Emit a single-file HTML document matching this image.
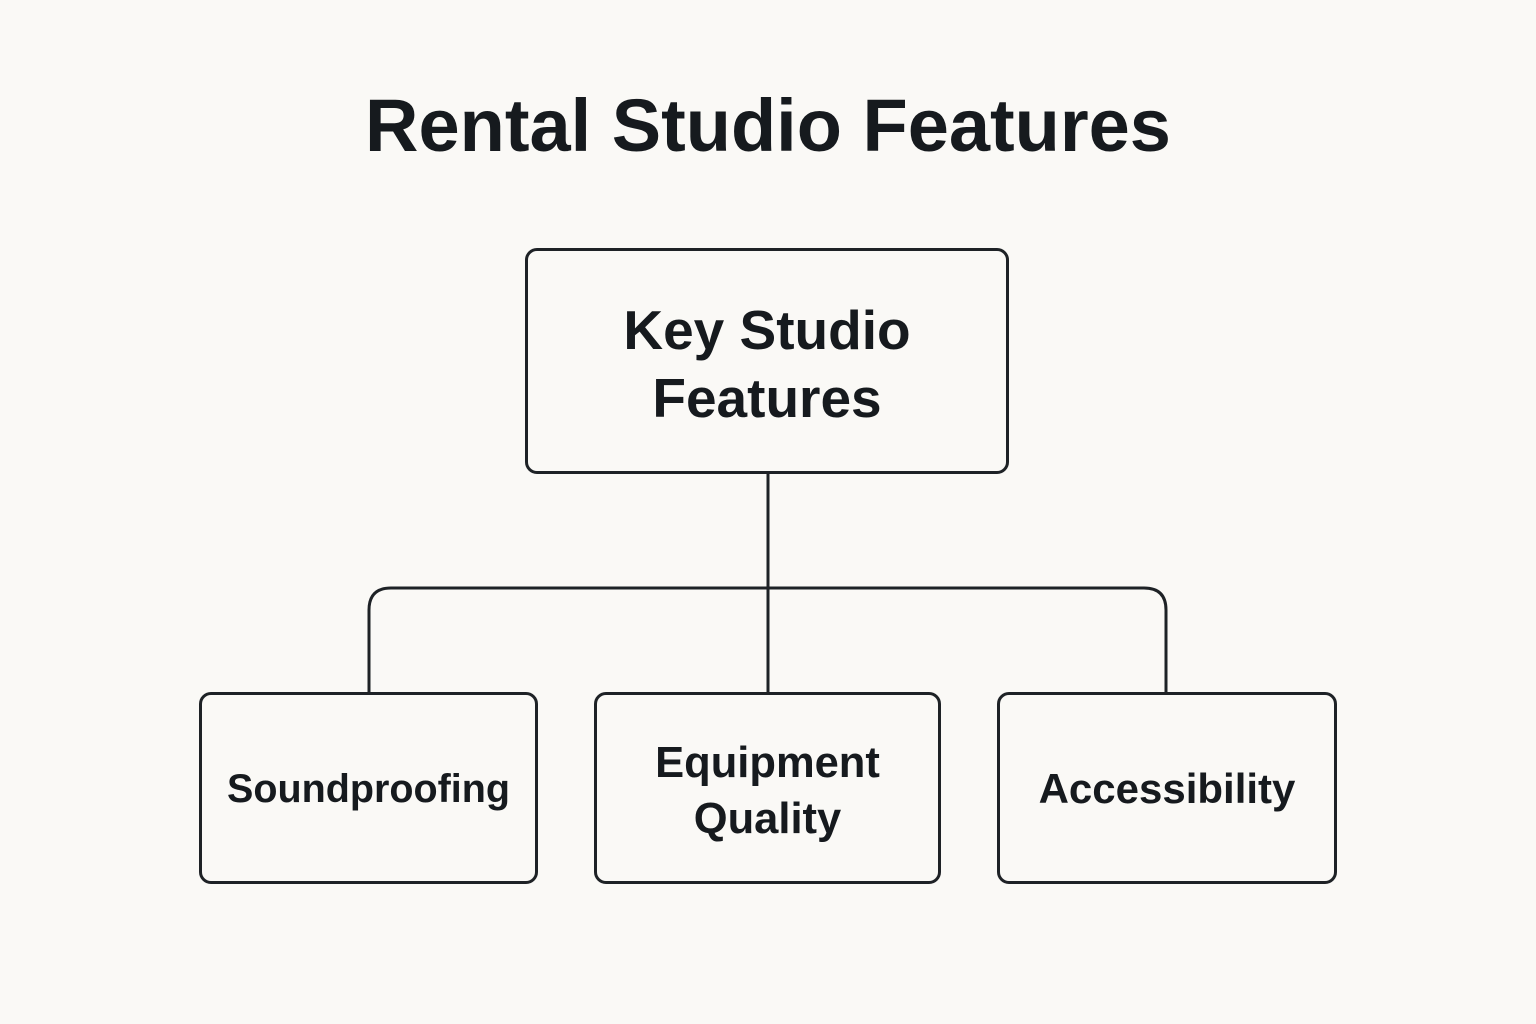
<!DOCTYPE html>
<html><head><meta charset="utf-8"><style>
html,body{margin:0;padding:0;}
body{width:1536px;height:1024px;background:#faf9f6;position:relative;overflow:hidden;font-family:"Liberation Sans",sans-serif;color:#161a1e;}
.t{position:absolute;left:0;width:1536px;top:86px;text-align:center;font-size:74px;font-weight:bold;line-height:80px;}
.box{position:absolute;border:3px solid #1e2226;border-radius:12px;box-sizing:border-box;display:flex;align-items:center;justify-content:center;text-align:center;font-weight:bold;}
</style></head><body>
<div class="t">Rental Studio Features</div>
<svg width="1536" height="1024" style="position:absolute;left:0;top:0">
<g fill="none" stroke="#1e2226" stroke-width="3">
<line x1="768" y1="472" x2="768" y2="694"/>
<path d="M369 694 V610 Q369 588 391 588 H1144 Q1166 588 1166 610 V694"/>
</g></svg>
<div class="box" style="left:525px;top:248px;width:484px;height:226px;font-size:55px;line-height:68px;padding-top:6px;">Key Studio<br>Features</div>
<div class="box" style="left:199px;top:692px;width:339px;height:192px;font-size:39.5px;padding-top:2px;">Soundproofing</div>
<div class="box" style="left:594px;top:692px;width:347px;height:192px;font-size:43.5px;line-height:56px;padding-top:6px;">Equipment<br>Quality</div>
<div class="box" style="left:997px;top:692px;width:340px;height:192px;font-size:42px;padding-top:2px;">Accessibility</div>
</body></html>
